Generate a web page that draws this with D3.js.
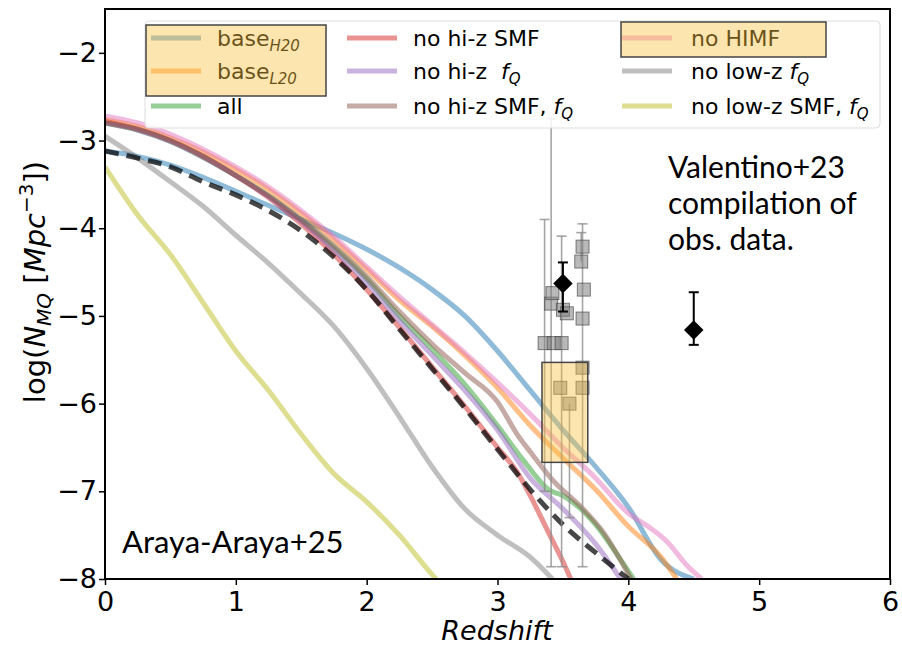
<!DOCTYPE html>
<html>
<head>
<meta charset="utf-8">
<script src="https://cdn.jsdelivr.net/npm/d3@7"></script>
<style>
  html, body { margin: 0; padding: 0; background: #fff; }
  svg { display: block; }
</style>
</head>
<body>
<svg id="chart" width="902" height="649"></svg>
<script>
// ---- model curves: log number density of massive quiescent galaxies vs redshift ----
const baseH20 = [[0,-3.12],[0.25,-3.18],[0.5,-3.28],[0.75,-3.42],[1,-3.58],[1.25,-3.74],[1.5,-3.9],[1.75,-4.06],[2,-4.24],[2.25,-4.45],[2.5,-4.7],[2.75,-5.0],[3,-5.4],[3.25,-5.85],[3.5,-6.3],[3.75,-6.72],[4,-7.18],[4.25,-7.78],[4.5,-8.0]];
const baseL20 = [[0,-2.76],[0.25,-2.84],[0.5,-2.97],[0.75,-3.13],[1,-3.33],[1.25,-3.56],[1.5,-3.83],[1.75,-4.13],[2,-4.47],[2.25,-4.82],[2.5,-5.12],[2.75,-5.45],[3,-5.82],[3.25,-6.25],[3.5,-6.62],[3.75,-6.98],[4,-7.4],[4.25,-7.75],[4.37,-8.0]];
const allObs = [[0,-2.8],[0.25,-2.88],[0.5,-3.01],[0.75,-3.19],[1,-3.4],[1.25,-3.63],[1.5,-3.91],[1.75,-4.22],[2,-4.58],[2.25,-5.0],[2.5,-5.38],[2.75,-5.78],[3,-6.25],[3.2,-6.65],[3.4,-6.99],[3.5,-7.05],[3.75,-7.38],[3.95,-7.8],[4.04,-8.0]];
const noHiSMF = [[0,-2.78],[0.25,-2.87],[0.5,-3.0],[0.75,-3.18],[1,-3.4],[1.25,-3.65],[1.5,-3.95],[1.75,-4.3],[2,-4.7],[2.25,-5.13],[2.5,-5.58],[2.75,-6.03],[3,-6.5],[3.15,-6.78],[3.25,-7.05],[3.4,-7.5],[3.5,-7.8],[3.56,-8.0]];
const noHiFQ = [[0,-2.8],[0.25,-2.88],[0.5,-3.01],[0.75,-3.19],[1,-3.4],[1.25,-3.64],[1.5,-3.92],[1.75,-4.25],[2,-4.62],[2.25,-5.05],[2.5,-5.45],[2.75,-5.85],[3,-6.3],[3.25,-6.85],[3.5,-7.2],[3.75,-7.6],[3.94,-8.0]];
const noHiSMFFQ = [[0,-2.8],[0.25,-2.87],[0.5,-3.0],[0.75,-3.18],[1,-3.4],[1.25,-3.63],[1.5,-3.9],[1.75,-4.2],[2,-4.55],[2.25,-4.95],[2.5,-5.32],[2.75,-5.65],[3,-5.98],[3.15,-6.35],[3.25,-6.55],[3.42,-6.87],[3.66,-7.21],[3.8,-7.45],[4.02,-8.0]];
const noHIMF = [[0,-2.72],[0.25,-2.8],[0.5,-2.93],[0.75,-3.1],[1,-3.3],[1.25,-3.53],[1.5,-3.8],[1.75,-4.1],[2,-4.44],[2.25,-4.78],[2.5,-5.1],[2.75,-5.42],[3,-5.76],[3.25,-6.12],[3.5,-6.5],[3.75,-6.85],[4,-7.25],[4.15,-7.4],[4.3,-7.58],[4.45,-7.85],[4.56,-8.0]];
const noLowFQ = [[0,-2.95],[0.25,-3.2],[0.5,-3.47],[0.75,-3.75],[1,-4.08],[1.25,-4.4],[1.5,-4.75],[1.75,-5.12],[2,-5.6],[2.25,-6.15],[2.5,-6.72],[2.75,-7.2],[3,-7.5],[3.25,-7.75],[3.42,-8.0]];
const noLowSMFFQ = [[0,-3.3],[0.25,-3.85],[0.5,-4.3],[0.75,-4.85],[1,-5.4],[1.25,-5.85],[1.5,-6.35],[1.75,-6.8],[2,-7.12],[2.25,-7.5],[2.5,-7.95],[2.53,-8.0]];
const referenceFit = [[0,-3.12],[0.25,-3.2],[0.5,-3.3],[0.75,-3.47],[1,-3.62],[1.25,-3.8],[1.5,-4.03],[1.75,-4.33],[2,-4.7],[2.25,-5.15],[2.5,-5.6],[2.75,-6.05],[3,-6.52],[3.25,-6.98],[3.5,-7.38],[3.75,-7.7],[4,-8.0]];

// ---- series labels and colours (tab10) ----
const seriesNames = ["baseH20","baseL20","all","noHiSMF","noHiFQ","noHiSMFFQ","noHIMF","noLowFQ","noLowSMFFQ"];
const seriesData = [baseH20, baseL20, allObs, noHiSMF, noHiFQ, noHiSMFFQ, noHIMF, noLowFQ, noLowSMFFQ];
const seriesColors = ["#1f77b4","#ff7f0e","#2ca02c","#d62728","#9467bd","#8c564b","#e377c2","#7f7f7f","#bcbd22"];

// ---- observational compilation: [z, logN, upper, lower] ----
const obsSquares = [
  [3.36,-5.31,-3.90,-7.00],
  [3.41,-4.86,-2.75,-7.86],
  [3.42,-4.74,-4.74,-4.74],
  [3.43,-5.31,-5.31,-5.31],
  [3.49,-5.31,-4.09,-7.86],
  [3.48,-5.82,-5.82,-5.82],
  [3.50,-4.93,-4.93,-4.93],
  [3.53,-4.97,-4.97,-4.97],
  [3.55,-6.00,-6.00,-7.30],
  [3.65,-4.21,-3.95,-7.86],
  [3.64,-4.38,-4.05,-4.38],
  [3.66,-4.70,-4.70,-4.70],
  [3.65,-5.03,-5.03,-5.03],
  [3.65,-5.59,-5.59,-5.59],
  [3.65,-5.82,-5.82,-5.82]
];
const obsDiamonds = [
  [3.50,-4.63,-4.39,-4.95],
  [4.50,-5.16,-4.73,-5.33]
];
// highlighted region: [z0, z1, logN top, logN bottom]
const highlightBox = [3.34, 3.69, -5.53, -6.67];

const xTicks = [0,1,2,3,4,5,6];
const yTicks = [-8,-7,-6,-5,-4,-3,-2];

// ---- layout ----
const svg = d3.select("#chart");
const x = d3.scaleLinear().domain([0, 6]).range([105, 890]);
const y = d3.scaleLinear().domain([-8, -1.5]).range([579, 9]);

const defs = svg.append("defs");
defs.append("clipPath").attr("id", "plotClip")
  .append("rect").attr("x", 105).attr("y", 9).attr("width", 785).attr("height", 570);

const plot = svg.append("g").attr("clip-path", "url(#plotClip)");

const line = d3.line().x(d => x(d[0])).y(d => y(d[1])).curve(d3.curveMonotoneX);

// model curves
plot.selectAll("path.model").data(seriesData).join("path")
  .attr("class", "model")
  .attr("d", line)
  .attr("fill", "none")
  .attr("stroke", (d, i) => seriesColors[i])
  .attr("stroke-width", 5)
  .attr("stroke-opacity", 0.5)
  .attr("stroke-linejoin", "round");

// dashed reference curve
plot.append("path")
  .attr("d", line(referenceFit))
  .attr("fill", "none")
  .attr("stroke", "#000")
  .attr("stroke-opacity", 0.72)
  .attr("stroke-width", 5)
  .attr("stroke-dasharray", "14,8");

// error bars for the compilation
const capW = 5;
const eb = plot.append("g").attr("stroke", "#888").attr("stroke-opacity", 0.75).attr("stroke-width", 1.6);
obsSquares.filter(d => d[2] !== d[3]).forEach(d => {
  eb.append("line").attr("x1", x(d[0])).attr("x2", x(d[0])).attr("y1", y(d[2])).attr("y2", y(d[3]));
  if (d[2] > d[1]) eb.append("line").attr("x1", x(d[0]) - capW).attr("x2", x(d[0]) + capW).attr("y1", y(d[2])).attr("y2", y(d[2]));
  if (d[3] < d[1]) eb.append("line").attr("x1", x(d[0]) - capW).attr("x2", x(d[0]) + capW).attr("y1", y(d[3])).attr("y2", y(d[3]));
});

// squares
plot.selectAll("rect.obs").data(obsSquares).join("rect")
  .attr("class", "obs")
  .attr("x", d => x(d[0]) - 6.5).attr("y", d => y(d[1]) - 6.5)
  .attr("width", 13).attr("height", 13)
  .attr("fill", "#808080").attr("fill-opacity", 0.55)
  .attr("stroke", "#444").attr("stroke-opacity", 0.65).attr("stroke-width", 1);

// diamonds with error bars
const dg = plot.append("g");
obsDiamonds.forEach(d => {
  dg.append("line").attr("x1", x(d[0])).attr("x2", x(d[0])).attr("y1", y(d[2])).attr("y2", y(d[3]))
    .attr("stroke", "#000").attr("stroke-width", 2);
  [d[2], d[3]].forEach(v => dg.append("line")
    .attr("x1", x(d[0]) - 5).attr("x2", x(d[0]) + 5).attr("y1", y(v)).attr("y2", y(v))
    .attr("stroke", "#000").attr("stroke-width", 2));
});
dg.selectAll("path.dia").data(obsDiamonds).join("path")
  .attr("class", "dia")
  .attr("d", d3.symbol(d3.symbolSquare, 190))
  .attr("transform", d => `translate(${x(d[0])},${y(d[1])}) rotate(45)`)
  .attr("fill", "#000");

// translucent highlight region
plot.append("rect")
  .attr("x", x(highlightBox[0])).attr("y", y(highlightBox[2]))
  .attr("width", x(highlightBox[1]) - x(highlightBox[0]))
  .attr("height", y(highlightBox[3]) - y(highlightBox[2]))
  .attr("fill", "#fbc140").attr("fill-opacity", 0.42)
  .attr("stroke", "#444").attr("stroke-width", 1.5);

// ---- axes ----
const tickFont = "DejaVu Sans, sans-serif";
const xAxis = svg.append("g").attr("transform", "translate(0,579)")
  .call(d3.axisBottom(x).tickValues(xTicks).tickFormat(d3.format("d")).tickSize(6));
const yAxis = svg.append("g").attr("transform", "translate(105,0)")
  .call(d3.axisLeft(y).tickValues(yTicks).tickFormat(d => "\u2212" + Math.abs(d)).tickSize(6));
[xAxis, yAxis].forEach(a => {
  a.select(".domain").remove();
  a.selectAll(".tick line").attr("stroke", "#000").attr("stroke-width", 1.5);
  a.selectAll(".tick text").attr("font-family", tickFont).attr("font-size", 27).attr("fill", "#000");
});
xAxis.selectAll(".tick text").attr("y", 32).attr("dy", 0);
yAxis.selectAll(".tick text").attr("x", -8);

// frame
svg.append("rect").attr("x", 105).attr("y", 9).attr("width", 785).attr("height", 570)
  .attr("fill", "none").attr("stroke", "#000").attr("stroke-width", 2);

// axis titles
svg.append("text").attr("x", 497).attr("y", 640).attr("text-anchor", "middle")
  .attr("font-family", tickFont).attr("font-size", 27).attr("font-style", "italic").text("Redshift");

const yl = svg.append("text").attr("transform", "translate(45,282) rotate(-90)")
  .attr("text-anchor", "middle").attr("font-family", tickFont).attr("font-size", 29);
yl.append("tspan").text("log(");
yl.append("tspan").attr("font-style", "italic").text("N");
yl.append("tspan").attr("font-style", "italic").attr("font-size", 20).attr("dy", 6).text("MQ");
yl.append("tspan").attr("dy", -6).text(" [");
yl.append("tspan").attr("font-style", "italic").text("Mpc");
yl.append("tspan").attr("font-size", 20).attr("dy", -12).text("\u22123");
yl.append("tspan").attr("dy", 12).text("])");

// ---- legend ----
const legend = svg.append("g");
legend.append("rect").attr("x", 145).attr("y", 21).attr("width", 735).attr("height", 107)
  .attr("rx", 4).attr("fill", "#fff").attr("fill-opacity", 0.85).attr("stroke", "#ddd").attr("stroke-width", 1);

const colLineX = [151, 347, 622];
const colTextX = [217, 413, 691];
const rowY = [38, 71, 106];
const legendFont = "DejaVu Sans, sans-serif";
const legendSize = 22;

function label(g, idx) {
  const t = g.append("text").attr("font-family", legendFont).attr("font-size", legendSize).attr("fill", "#000");
  const sub = (txt) => t.append("tspan").attr("font-style", "italic").attr("font-size", 15).attr("dy", 5).text(txt);
  switch (idx) {
    case 0: t.append("tspan").text("base"); sub("H20"); break;
    case 1: t.append("tspan").text("base"); sub("L20"); break;
    case 2: t.append("tspan").text("all"); break;
    case 3: t.append("tspan").text("no hi-z SMF"); break;
    case 4: t.append("tspan").text("no hi-z\u00a0\u00a0"); t.append("tspan").attr("font-style", "italic").text("f"); sub("Q"); break;
    case 5: t.append("tspan").text("no hi-z SMF, "); t.append("tspan").attr("font-style", "italic").text("f"); sub("Q"); break;
    case 6: t.append("tspan").text("no HIMF"); break;
    case 7: t.append("tspan").text("no low-z "); t.append("tspan").attr("font-style", "italic").text("f"); sub("Q"); break;
    case 8: t.append("tspan").text("no low-z SMF, "); t.append("tspan").attr("font-style", "italic").text("f"); sub("Q"); break;
  }
  return t;
}

seriesNames.forEach((name, i) => {
  const col = Math.floor(i / 3), row = i % 3;
  const g = legend.append("g");
  g.append("line").attr("x1", colLineX[col]).attr("x2", colLineX[col] + 50)
    .attr("y1", rowY[row]).attr("y2", rowY[row])
    .attr("stroke", seriesColors[i]).attr("stroke-opacity", 0.5).attr("stroke-width", 5);
  label(g, i).attr("x", colTextX[col]).attr("y", rowY[row] + 8);
});

// translucent boxes over selected legend entries
[[146, 25, 180, 71], [621, 22, 205, 35]].forEach(b => {
  legend.append("rect").attr("x", b[0]).attr("y", b[1]).attr("width", b[2]).attr("height", b[3])
    .attr("fill", "#fbc140").attr("fill-opacity", 0.42).attr("stroke", "#444").attr("stroke-width", 1.5);
});

// ---- annotations ----
const annFont = "Lato, sans-serif";
const ann = svg.append("text").attr("font-family", annFont).attr("font-size", 30).attr("fill", "#000");
["Valentino+23", "compilation of", "obs. data."].forEach((s, i) =>
  ann.append("tspan").attr("x", 668).attr("y", 178 + i * 36).text(s));
svg.append("text").attr("x", 122).attr("y", 553).attr("font-family", annFont).attr("font-size", 31)
  .attr("fill", "#000").text("Araya-Araya+25");
</script>
</body>
</html>
